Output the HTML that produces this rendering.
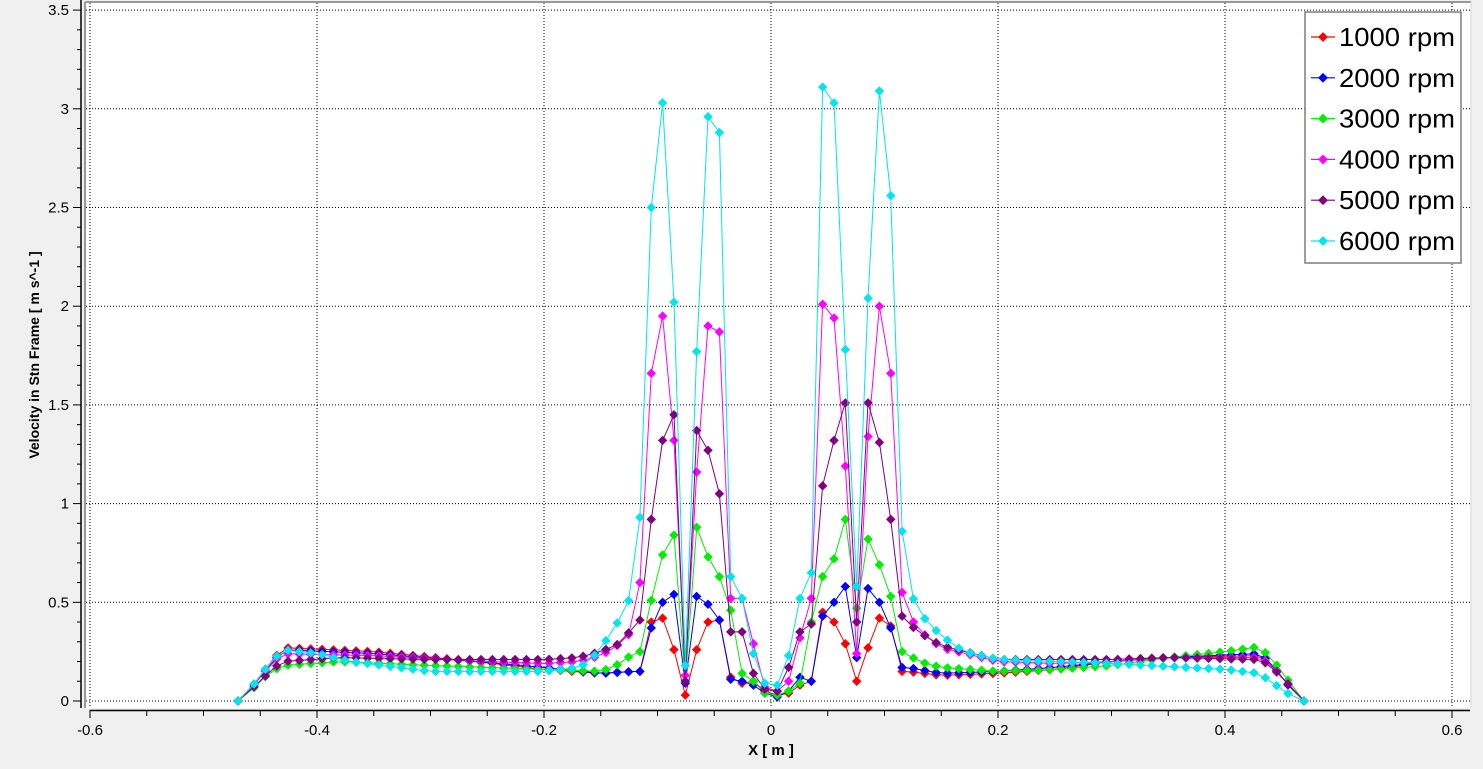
<!DOCTYPE html>
<html><head><meta charset="utf-8"><style>
html,body{margin:0;padding:0;background:#f0f0f0;}
svg{display:block;font-family:"Liberation Sans","DejaVu Sans",sans-serif;}
</style></head><body>
<svg id="c" width="1483" height="769" xmlns="http://www.w3.org/2000/svg"></svg>
<script>
const S=document.getElementById('c');
const NS='http://www.w3.org/2000/svg';
function el(t,a,txt){const e=document.createElementNS(NS,t);for(const k in a)e.setAttribute(k,a[k]);if(txt!==undefined)e.textContent=txt;S.appendChild(e);return e;}
const X=x=>771+x*1135, Y=v=>701-v*197.4;
el('rect',{x:0,y:0,width:1483,height:769,fill:'#f0f0f0'});
el('rect',{x:86,y:3,width:1384,height:705,fill:'#fff'});
el('line',{x1:85,y1:2,x2:85,y2:708,stroke:'#999','stroke-width':2});
el('line',{x1:85,y1:2,x2:1471,y2:2,stroke:'#999','stroke-width':2});
el('line',{x1:1471,y1:2,x2:1471,y2:708,stroke:'#ddd','stroke-width':1});
for(let i=-3;i<=3;i++){el('line',{x1:X(i*0.2),y1:3,x2:X(i*0.2),y2:708,stroke:'#000','stroke-dasharray':'1,2','stroke-width':1});}
for(let i=0;i<=7;i++){el('line',{x1:86,y1:Y(i*0.5),x2:1470,y2:Y(i*0.5),stroke:'#000','stroke-dasharray':'1,2','stroke-width':1});}
el('line',{x1:81,y1:0,x2:81,y2:708,stroke:'#000','stroke-width':1.5});
for(let i=0;i<=35;i++){const y=Y(i*0.1);el('line',{x1:i%5==0?73:77,y1:y,x2:81,y2:y,stroke:'#000'});}
for(let i=0;i<=7;i++){el('text',{x:69,y:Y(i*0.5)+5,'text-anchor':'end','font-size':15},String(i*0.5));}
el('line',{x1:90,y1:710.5,x2:1470,y2:710.5,stroke:'#000','stroke-width':1.5});
for(let i=-12;i<=12;i++){const x=X(i*0.05);el('line',{x1:x,y1:710,x2:x,y2:i%4==0?718:716,stroke:'#000'});}
for(let i=-3;i<=3;i++){el('text',{x:X(i*0.2),y:735,'text-anchor':'middle','font-size':15},i==0?'0':(i*0.2).toFixed(1));}
el('text',{x:771,y:755,'text-anchor':'middle','font-size':15,'font-weight':'bold'},'X [ m ]');
el('text',{x:0,y:0,'text-anchor':'middle','font-size':14,'font-weight':'bold',transform:'translate(39,355) rotate(-90)'},'Velocity in Stn Frame [ m s^-1 ]');
const cols=['#ff0000','#0000ff','#00ee00','#ff00ff','#800080','#00e5ee'];
const names=['1000 rpm','2000 rpm','3000 rpm','4000 rpm','5000 rpm','6000 rpm'];
const RC=[[0.03,0.04,0.08,0.1,0.45,0.4,0.29,0.1,0.27,0.42,0.38,0.15],
[0.02,0.05,0.12,0.1,0.43,0.5,0.58,0.22,0.57,0.5,0.37,0.17],
[0.03,0.05,0.09,0.4,0.63,0.72,0.92,0.47,0.82,0.69,0.53,0.25],
[0.05,0.1,0.32,0.52,2.01,1.94,1.19,0.24,1.34,2.0,1.66,0.55],
[0.05,0.17,0.35,0.39,1.09,1.32,1.51,0.4,1.51,1.31,0.92,0.43],
[0.08,0.23,0.52,0.65,3.11,3.03,1.78,0.58,2.04,3.09,2.56,0.86]];
const LC=[[0.05,0.1,0.09,0.12,0.41,0.4,0.26,0.03,0.26,0.42,0.4,0.15],
[0.04,0.08,0.1,0.11,0.41,0.49,0.53,0.09,0.54,0.5,0.37,0.15],
[0.04,0.1,0.14,0.46,0.63,0.73,0.88,0.1,0.84,0.74,0.51,0.25],
[0.07,0.29,0.52,0.52,1.87,1.9,1.16,0.13,1.32,1.95,1.66,0.6],
[0.06,0.14,0.35,0.35,1.05,1.27,1.37,0.1,1.45,1.32,0.92,0.41],
[0.09,0.24,0.52,0.63,2.88,2.96,1.77,0.18,2.02,3.03,2.5,0.93]];
const RP=[
[[0.12,0.15],[0.15,0.13],[0.2,0.14],[0.25,0.16],[0.3,0.2],[0.35,0.22],[0.43,0.23],[0.44,0.2],[0.45,0.12],[0.46,0.05],[0.47,0]],
[[0.12,0.17],[0.15,0.14],[0.2,0.15],[0.25,0.17],[0.3,0.2],[0.35,0.22],[0.43,0.24],[0.44,0.2],[0.45,0.12],[0.46,0.05],[0.47,0]],
[[0.12,0.24],[0.13,0.2],[0.15,0.17],[0.2,0.15],[0.25,0.16],[0.3,0.18],[0.35,0.22],[0.4,0.25],[0.43,0.275],[0.44,0.22],[0.45,0.15],[0.46,0.07],[0.47,0]],
[[0.12,0.45],[0.13,0.36],[0.15,0.27],[0.2,0.2],[0.25,0.19],[0.3,0.2],[0.35,0.22],[0.43,0.22],[0.44,0.19],[0.45,0.12],[0.46,0.06],[0.47,0]],
[[0.12,0.4],[0.13,0.35],[0.15,0.28],[0.2,0.21],[0.3,0.21],[0.35,0.22],[0.43,0.21],[0.44,0.18],[0.45,0.12],[0.46,0.06],[0.47,0]],
[[0.12,0.6],[0.13,0.45],[0.15,0.33],[0.17,0.25],[0.2,0.21],[0.3,0.19],[0.4,0.16],[0.43,0.14],[0.44,0.1],[0.45,0.06],[0.46,0.02],[0.47,0]]];
const LP=[
[[0.12,0.15],[0.15,0.14],[0.2,0.16],[0.26,0.2],[0.35,0.25],[0.43,0.27],[0.44,0.2],[0.45,0.13],[0.46,0.05],[0.47,0]],
[[0.12,0.15],[0.15,0.14],[0.2,0.17],[0.26,0.2],[0.35,0.24],[0.43,0.26],[0.44,0.19],[0.45,0.12],[0.46,0.05],[0.47,0]],
[[0.12,0.25],[0.13,0.2],[0.14,0.17],[0.15,0.15],[0.2,0.16],[0.3,0.18],[0.38,0.2],[0.43,0.18],[0.44,0.15],[0.45,0.1],[0.46,0.04],[0.47,0]],
[[0.12,0.38],[0.13,0.3],[0.15,0.23],[0.17,0.2],[0.2,0.19],[0.25,0.2],[0.35,0.23],[0.43,0.24],[0.44,0.19],[0.45,0.12],[0.46,0.05],[0.47,0]],
[[0.12,0.4],[0.13,0.3],[0.15,0.25],[0.17,0.22],[0.2,0.21],[0.3,0.21],[0.38,0.22],[0.43,0.2],[0.44,0.16],[0.45,0.1],[0.46,0.05],[0.47,0]],
[[0.12,0.58],[0.13,0.45],[0.14,0.35],[0.15,0.27],[0.16,0.2],[0.17,0.17],[0.2,0.15],[0.3,0.15],[0.37,0.2],[0.4,0.24],[0.43,0.26],[0.44,0.2],[0.45,0.13],[0.46,0.05],[0.47,0]]];
function interp(p,x){if(x<=p[0][0])return p[0][1];for(let i=1;i<p.length;i++){if(x<=p[i][0]){const a=p[i-1],b=p[i];return a[1]+(b[1]-a[1])*(x-a[0])/(b[0]-a[0]);}}return p[p.length-1][1];}
function side(C,P,sgn){const pts=[];for(let k=0;k<=45;k++){const off=(k+0.55)*11.35;const xm=(k+0.55)*0.01;const v=k<12?C[k]:interp(P,xm);pts.push([771+sgn*off,Y(v)]);}pts.push([771+sgn*533,Y(0)]);return pts;}
function diamond(x,y,c,r){return el('path',{d:`M${x} ${y-r}L${x+r} ${y}L${x} ${y+r}L${x-r} ${y}Z`,fill:c,stroke:c,'stroke-width':0.6});}
for(let s=0;s<6;s++){
  const L=side(LC[s],LP[s],-1).reverse(), R=side(RC[s],RP[s],1);
  const pts=L.concat(R);
  el('polyline',{points:pts.map(p=>p[0].toFixed(1)+','+p[1].toFixed(1)).join(' '),fill:'none',stroke:cols[s],'stroke-width':1});
  for(const p of pts)diamond(p[0],p[1],cols[s],4.3);
}
el('rect',{x:1305,y:12,width:156,height:251,fill:'#fff',stroke:'#7f7f7f','stroke-width':1.5});
for(let s=0;s<6;s++){const y=37+s*40.8;
 el('line',{x1:1311,y1:y,x2:1335,y2:y,stroke:cols[s],'stroke-width':1.2});
 diamond(1323,y,cols[s],4.5);
 el('text',{x:1339,y:y+9,'font-size':26,textLength:116,lengthAdjust:'spacingAndGlyphs'},names[s]);}
</script>
</body></html>
